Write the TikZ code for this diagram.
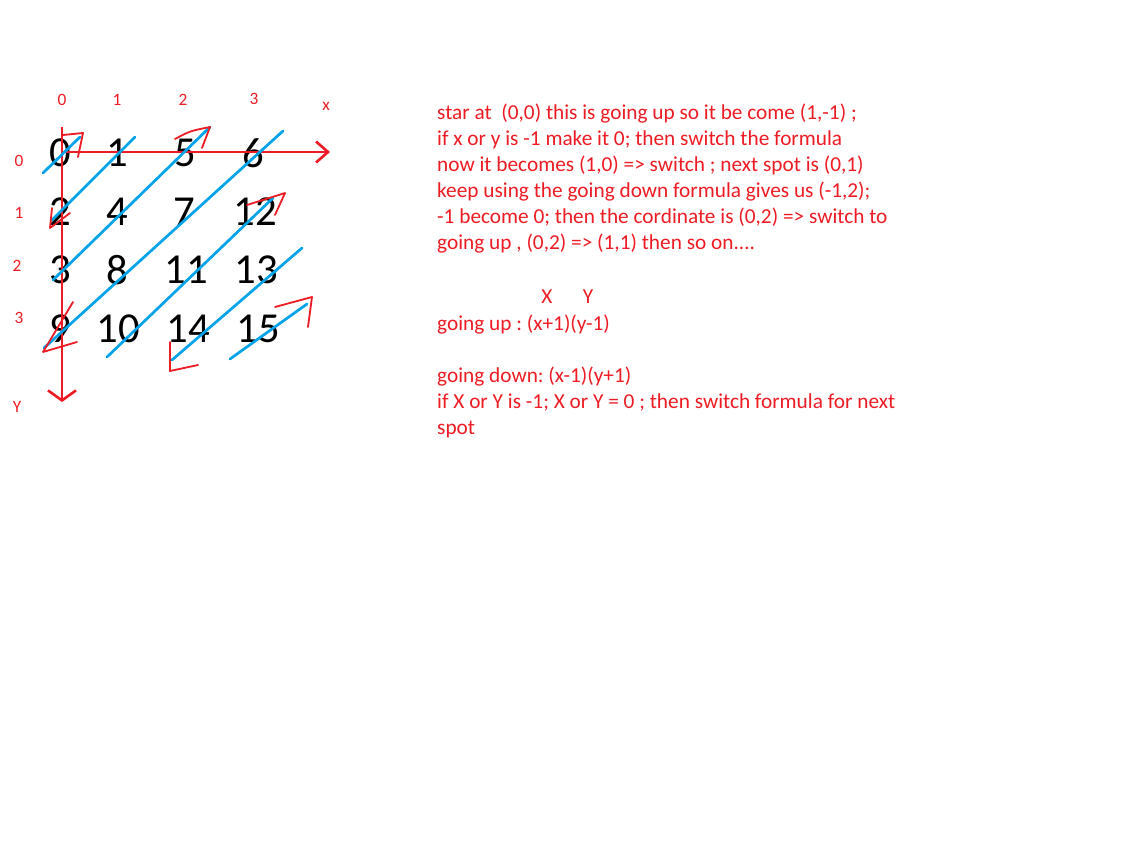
\documentclass[tikz,border=0pt]{standalone}
\usepackage{fontspec}
\setmainfont{Carlito}
\usetikzlibrary{arrows.meta}
\definecolor{penred}{RGB}{237,28,36}
\definecolor{penblue}{RGB}{0,162,232}
\frenchspacing

\begin{document}
\begin{tikzpicture}[x=1pt,y=-1pt,
	num/.style={ inner sep=0pt, font=\fontsize{42.7}{50}\selectfont },
	axlabel/.style={ penred, inner sep=0pt, font=\fontsize{17.3}{20}\selectfont },
	note/.style={ penred, inner sep=0pt, anchor=base west, font=\fontsize{21.3}{26}\selectfont },
	axis/.style={ penred, line width=2.6pt },
	stroke/.style={ penblue, line width=2.7pt, line cap=round },
	hook/.style={ penred, line width=1.8pt, line join=round, line cap=round }
]
\useasboundingbox[fill=white] (0,0) rectangle (1130,845);

% the numbered grid
\node at (60,153) (n0) [num] {0};
\node at (117,153) (n1) [num] {1};
\node at (185,153) (n5) [num] {5};
\node at (253,153) (n6) [num] {6};
\node at (60,212) (n2) [num] {2};
\node at (117,212) (n4) [num] {4};
\node at (184,212) (n7) [num] {7};
\node at (255,212) (n12) [num] {12};
\node at (60,270) (n3) [num] {3};
\node at (117,270) (n8) [num] {8};
\node at (186,270) (n11) [num] {11};
\node at (256,270) (n13) [num] {13};
\node at (60,329) (n9) [num] {9};
\node at (118,329) (n10) [num] {10};
\node at (188,329) (n14) [num] {14};
\node at (258,329) (n15) [num] {15};

\node at (62,100) (cx0) [axlabel] {0};
\node at (117,100) (cx1) [axlabel] {1};
\node at (183,100) (cx2) [axlabel] {2};
\node at (254,99) (cx3) [axlabel] {3};
\node at (326,106) (xlab) [axlabel] {x};
\node at (19,161) (cy0) [axlabel] {0};
\node at (19,213) (cy1) [axlabel] {1};
\node at (17,266) (cy2) [axlabel] {2};
\node at (19,318) (cy3) [axlabel] {3};
\node at (17,407) (ylab) [axlabel] {Y};

\coordinate (o) at (62,152);
\coordinate (xend) at (330,152);
\coordinate (ytop) at (62,127);
\coordinate (yend) at (62,402);
\draw[axis,-{Straight Barb[length=12pt,width=21pt]}] (o) -- (xend);
\draw[axis,-{Straight Barb[length=10pt,width=28pt]}] (ytop) -- (yend);

% zig-zag path
\draw[stroke] (43,173) -- (80,137);
\draw[stroke] (52,220) -- (135,137);
\draw[stroke] (53,280) -- (210,127);
\draw[stroke] (44,348) -- (283,131);
\draw[stroke] (107,357) -- (273,198);
\draw[stroke] (172,360) -- (302,248);
\draw[stroke] (230,359) -- (307,304);

\draw[hook] (63,135) -- (83,133) -- (78,157);
\draw[hook] (52,208) -- (50,228) -- (70,213);
\draw[hook] (175,139) .. controls (190,131) .. (210,127) -- (202,148);
\draw[hook] (247,205) -- (285,193) -- (275,215);
\draw[hook] (73,302) -- (43,352) -- (77,342);
\draw[hook] (170,342) -- (170,371) -- (198,365);
\draw[hook] (275,307) -- (312,297) -- (308,327);

% notes
\node[note] (line1) at (437,120) {star at~ (0,0) this is going up so it be come (1,-1) ;};
\node[note] (line2) at (437,146) {if x or y is -1 make it 0; then switch the formula};
\node[note] (line3) at (437,172) {now it becomes (1,0) => switch ; next spot is (0,1)};
\node[note] (line4) at (437,198) {keep using the going down formula gives us (-1,2);};
\node[note] (line5) at (437,224) {-1 become 0; then the cordinate is (0,2) => switch to};
\node[note] (line6) at (437,250) {going up , (0,2) => (1,1) then so on....};

\node[note,anchor=base] (hx) at (547,303) {X};
\node[note,anchor=base] (hy) at (588,303) {Y};
\node[note] (up) at (437,330) {going up : (x+1)(y-1)};
\node[note] (down) at (437,382) {going down: (x-1)(y+1)};
\node[note] (ifxy) at (437,408) {if X or Y is -1; X or Y = 0 ; then switch formula for next};
\node[note] (spot) at (437,434) {spot};

\end{tikzpicture}
\end{document}
